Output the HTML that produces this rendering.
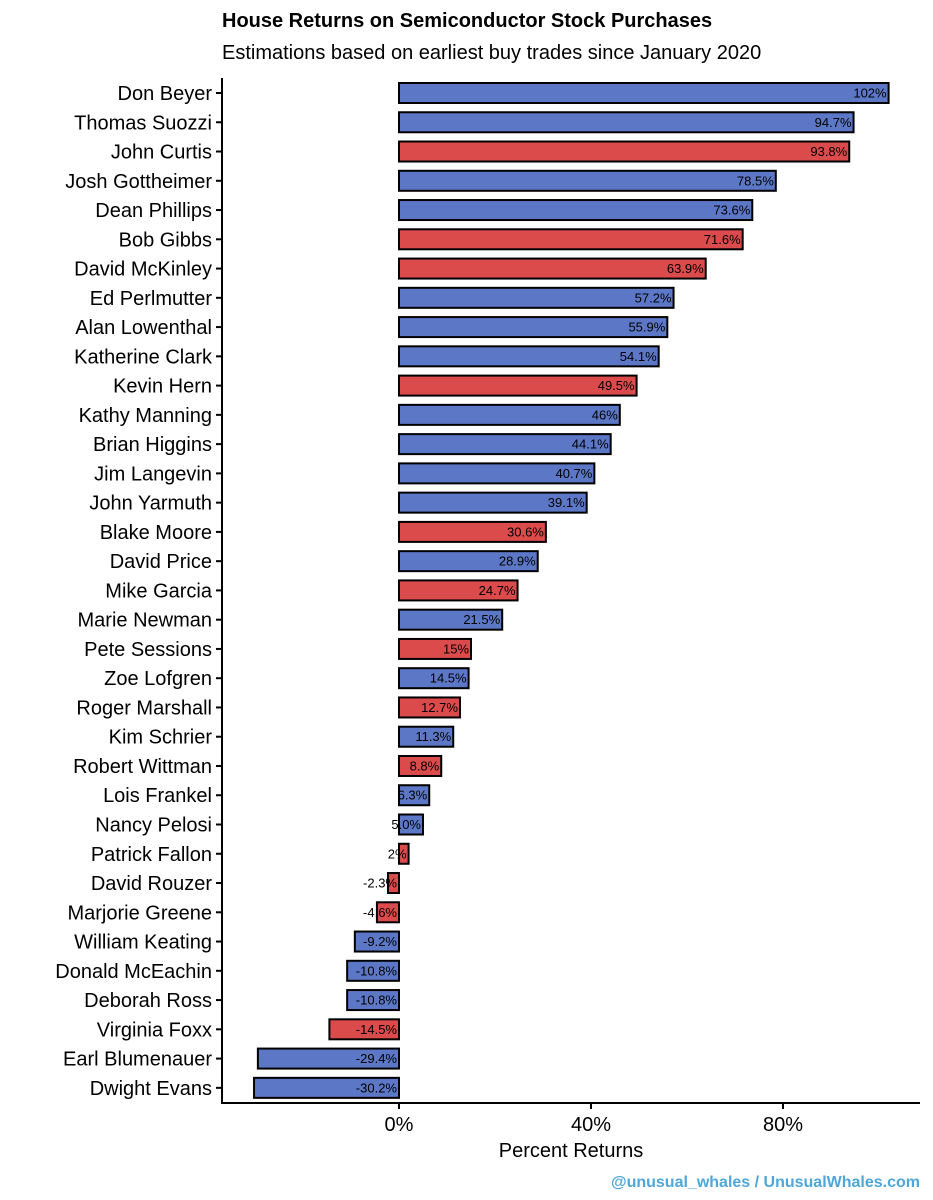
<!DOCTYPE html>
<html><head><meta charset="utf-8"><style>body{margin:0;background:#fff}svg{display:block;font-family:"Liberation Sans",Arial,sans-serif}</style></head>
<body>
<svg id="chart" width="933" height="1200" xmlns="http://www.w3.org/2000/svg">
<text x="222" y="27" font-size="20" font-weight="bold">House Returns on Semiconductor Stock Purchases</text>
<text x="222" y="59" font-size="20">Estimations based on earliest buy trades since January 2020</text>
<g id="plot"></g>
<line x1="222" y1="78" x2="222" y2="1104" stroke="#000" stroke-width="2"/>
<line x1="221" y1="1103" x2="920" y2="1103" stroke="#000" stroke-width="2"/>
<text x="571" y="1157" font-size="20" text-anchor="middle">Percent Returns</text>
<text x="920" y="1187" font-size="16" font-weight="bold" fill="#4ea6d9" text-anchor="end">@unusual_whales / UnusualWhales.com</text>
</svg>
<script>
const names=["Don Beyer","Thomas Suozzi","John Curtis","Josh Gottheimer","Dean Phillips","Bob Gibbs","David McKinley","Ed Perlmutter","Alan Lowenthal","Katherine Clark","Kevin Hern","Kathy Manning","Brian Higgins","Jim Langevin","John Yarmuth","Blake Moore","David Price","Mike Garcia","Marie Newman","Pete Sessions","Zoe Lofgren","Roger Marshall","Kim Schrier","Robert Wittman","Lois Frankel","Nancy Pelosi","Patrick Fallon","David Rouzer","Marjorie Greene","William Keating","Donald McEachin","Deborah Ross","Virginia Foxx","Earl Blumenauer","Dwight Evans"];
const values=[102,94.7,93.8,78.5,73.6,71.6,63.9,57.2,55.9,54.1,49.5,46,44.1,40.7,39.1,30.6,28.9,24.7,21.5,15,14.5,12.7,11.3,8.8,6.3,5.0,2,-2.3,-4.6,-9.2,-10.8,-10.8,-14.5,-29.4,-30.2];
const labels=["102%","94.7%","93.8%","78.5%","73.6%","71.6%","63.9%","57.2%","55.9%","54.1%","49.5%","46%","44.1%","40.7%","39.1%","30.6%","28.9%","24.7%","21.5%","15%","14.5%","12.7%","11.3%","8.8%","6.3%","5.0%","2%","-2.3%","-4.6%","-9.2%","-10.8%","-10.8%","-14.5%","-29.4%","-30.2%"];
const party=["D","D","R","D","D","R","R","D","D","D","R","D","D","D","D","R","D","R","D","R","D","R","D","R","D","D","R","R","R","D","D","D","R","D","D"];
const ticks=[0,40,80];
const x=v=>399+v*4.8;
const y=i=>93+i*29.26;
const g=document.getElementById('plot');
const NS="http://www.w3.org/2000/svg";
function mk(t,a){const e=document.createElementNS(NS,t);for(const k in a)e.setAttribute(k,a[k]);g.appendChild(e);return e;}
names.forEach((n,i)=>{
 const v=values[i];const x0=Math.min(x(0),x(v)),w=Math.abs(x(v)-x(0));
 const r=mk('rect',{x:x0,y:y(i)-10,width:w,height:20,fill:party[i]==="R"?"#dc4b4b":"#5c77c6",stroke:"#000","stroke-width":2});
 
 
 const l=mk('text',{x:x(Math.max(v,0))-2,y:y(i)+4.5,"font-size":13,"text-anchor":"end"});l.textContent=labels[i];
 
 
 const t=mk('text',{x:212,y:y(i)+7,"font-size":20,"text-anchor":"end"});t.textContent=n;
 
 
 const tk=mk('line',{x1:216,x2:222,y1:y(i),y2:y(i),stroke:"#000","stroke-width":2});
 
 
});
ticks.forEach(v=>{
 const tk=mk('line',{x1:x(v),x2:x(v),y1:1103,y2:1109,stroke:"#000","stroke-width":2});
 
 
 const t=mk('text',{x:x(v),y:1131,"font-size":20,"text-anchor":"middle"});t.textContent=v+"%";
 
 
});
</script>
</body></html>
